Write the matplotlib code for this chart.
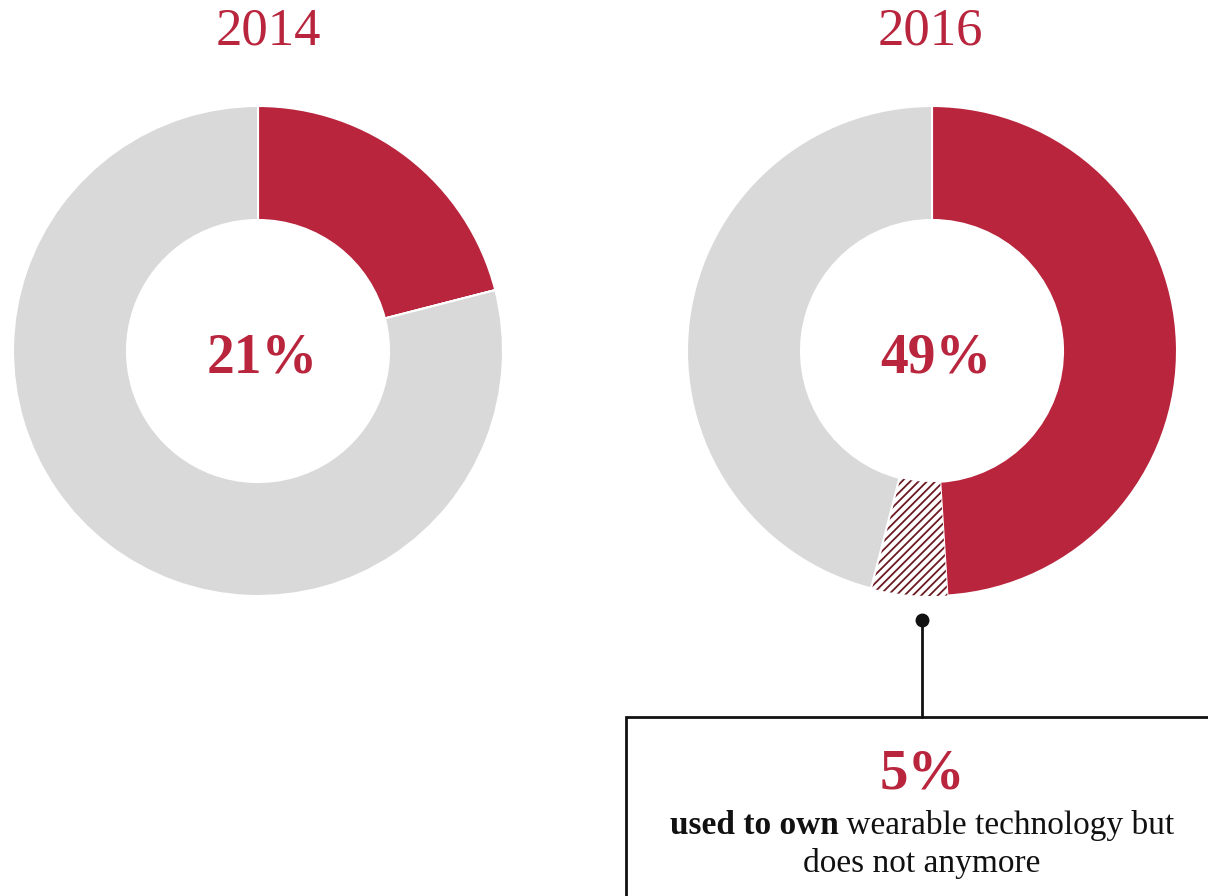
import matplotlib
matplotlib.use("Agg")
import matplotlib.pyplot as plt
from matplotlib.patches import Rectangle

plt.rcParams['font.family'] = ['Liberation Serif', 'DejaVu Serif']
plt.rcParams['hatch.linewidth'] = 1.3

RED = '#b8253d'
GREY = '#d9d9d9'
HATCH = '#6b1a22'

years = ['2014', '2016']
owns = [21, 49]
used_to_own = [0, 5]
never = [79, 46]
centre_labels = ['21%', '49%']

W, H = 1208, 896
fig = plt.figure(figsize=(W / 100, H / 100), dpi=100)
ax = fig.add_axes([0, 0, 1, 1])

centres = [(258, H - 351), (932, H - 351)]
R_OUT, RING = 245, 114

for i in range(2):
    vals = [owns[i], used_to_own[i], never[i]]
    wedges, _ = ax.pie(vals, colors=[RED, 'white', GREY], startangle=90,
                       counterclock=False, radius=R_OUT, center=centres[i],
                       wedgeprops=dict(width=RING, edgecolor='white', linewidth=1.5))
    if used_to_own[i]:
        w = wedges[1]
        w.set_hatch('////')
        w.set_edgecolor(HATCH)
        w.set_linewidth(0)
    cx, cy = centres[i]
    ax.text(cx + 10 * (i == 0) - 2 * (i == 1), H - 31, years[i], color=RED, fontsize=38,
            ha='center', va='center')
    ax.text(cx + 4, cy - 7, centre_labels[i], color=RED, fontsize=40,
            fontweight='bold', ha='center', va='center')

# callout for the hatched slice
ax.plot([922, 922], [H - 620, H - 717], color='#111111', lw=2)
ax.plot([922], [H - 620], 'o', color='#111111', ms=9)
ax.add_patch(Rectangle((626, -20), 700, H - 717 + 20, facecolor='white',
                       edgecolor='#111111', lw=2))

ax.text(922, H - 774, '5%', color=RED, fontsize=41, fontweight='bold',
        ha='center', va='center')

fig.canvas.draw()
r = fig.canvas.get_renderer()
bold_part = ax.text(0, H - 825, 'used to own', fontsize=24, fontweight='bold',
                    color='#111111', ha='left', va='center')
reg_part = ax.text(0, H - 825, ' wearable technology but', fontsize=24,
                   color='#111111', ha='left', va='center')
wb = bold_part.get_window_extent(r).width
wr = reg_part.get_window_extent(r).width
x0 = 922 - (wb + wr) / 2
bold_part.set_x(x0)
reg_part.set_x(x0 + wb)
ax.text(922, H - 863, 'does not anymore', fontsize=24, color='#111111',
        ha='center', va='center')

ax.set_xlim(0, W)
ax.set_ylim(0, H)
ax.set_aspect('auto')
ax.axis('off')

fig.savefig('out.png', dpi=100)
